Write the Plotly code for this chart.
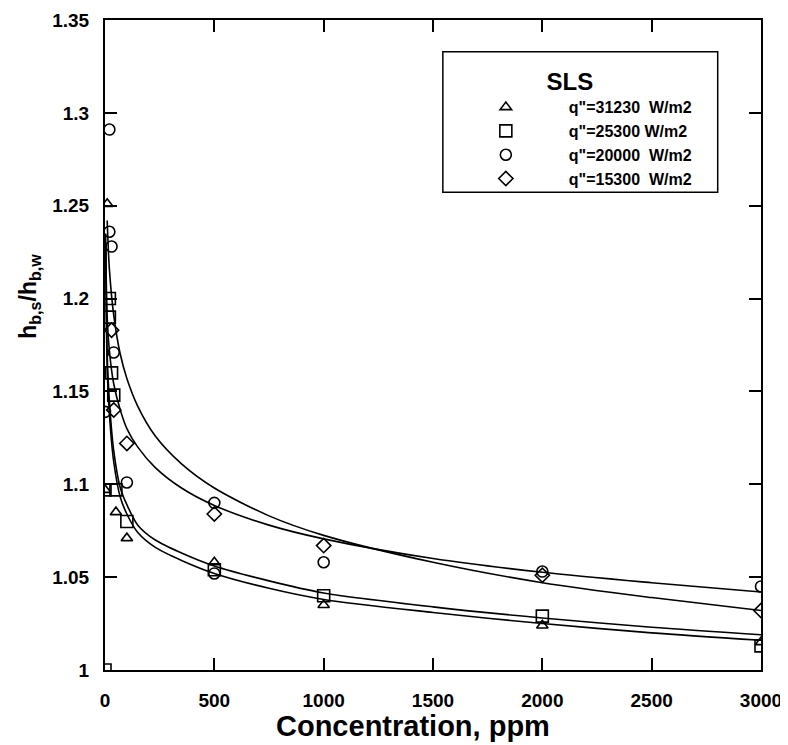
import plotly.graph_objects as go

# ---- measured points (concentration in ppm, h_b,s / h_b,w) ----
tri_x = [0, 10, 50, 100, 500, 1000, 2000, 3000]
tri_y = [1.097, 1.251, 1.085, 1.071, 1.058, 1.035, 1.024, 1.015]

sq_x = [0, 0, 20, 20, 30, 40, 50, 100, 500, 1000, 2000, 3000]
sq_y = [1.000, 1.097, 1.200, 1.190, 1.160, 1.148, 1.097, 1.080, 1.054, 1.040, 1.029, 1.013]

ci_x = [0, 20, 20, 30, 40, 100, 500, 500, 1000, 2000, 3000]
ci_y = [1.139, 1.291, 1.236, 1.228, 1.171, 1.101, 1.090, 1.052, 1.058, 1.053, 1.045]

di_x = [30, 40, 100, 500, 1000, 2000, 3000]
di_y = [1.183, 1.140, 1.122, 1.084, 1.067, 1.051, 1.032]

# ---- fitted curves ----
fit_x = [3, 10, 20, 40, 70, 100, 150, 230, 350, 500, 750, 1000, 1500, 2000, 2500, 3000]
fit_u1 = [None, 1.242, 1.216, 1.191, 1.170, 1.157, 1.142, 1.126, 1.111, 1.098, 1.083, 1.0725, 1.058, 1.047, 1.039, 1.032]
fit_u2 = [1.230, 1.190, 1.172, 1.154, 1.140, 1.130, 1.120, 1.109, 1.098, 1.0886, 1.078, 1.0706, 1.060, 1.0526, 1.047, 1.042]
fit_l1 = [1.235, 1.170, 1.145, 1.118, 1.098, 1.089, 1.078, 1.070, 1.063, 1.056, 1.048, 1.0415, 1.034, 1.028, 1.023, 1.019]
fit_l2 = [1.230, 1.163, 1.138, 1.112, 1.093, 1.084, 1.074, 1.066, 1.059, 1.052, 1.044, 1.038, 1.031, 1.025, 1.020, 1.016]

x_ticks = [0, 500, 1000, 1500, 2000, 2500, 3000]
y_ticks = [1, 1.05, 1.1, 1.15, 1.2, 1.25, 1.3, 1.35]

legend_title = "SLS"
series_names = ['q"=31230  W/m2', 'q"=25300 W/m2', 'q"=20000  W/m2', 'q"=15300  W/m2']
x_title = "Concentration, ppm"
y_title = "h<sub>b,s</sub>/h<sub>b,w</sub>"

FONT = "Liberation Sans, Arial, sans-serif"

fig = go.Figure()

for fy in [fit_u1, fit_u2, fit_l1, fit_l2]:
    fig.add_trace(go.Scatter(x=fit_x, y=fy, mode="lines",
                             line=dict(color="black", width=1.6, shape="spline", smoothing=0.8),
                             showlegend=False, hoverinfo="skip", connectgaps=False))

markers = ["triangle-up-open", "square-open", "circle-open", "diamond-open"]
sizes = [10, 12, 11, 11]
for xs, ys, name, sym, sz in zip([tri_x, sq_x, ci_x, di_x], [tri_y, sq_y, ci_y, di_y], series_names, markers, sizes):
    fig.add_trace(go.Scatter(x=xs, y=ys, mode="markers", name=name,
                             marker=dict(symbol=sym, size=sz, color="black", line=dict(color="black", width=1.6))))

# legend box
fig.add_shape(type="rect", xref="paper", yref="paper", x0=0.515, x1=0.934, y0=0.735, y1=0.951,
              line=dict(color="black", width=1.5), fillcolor="rgba(0,0,0,0)")

# axis titles placed as in the reference
fig.add_annotation(text=x_title, xref="paper", yref="paper", x=0.47, y=-0.086, showarrow=False,
                   xanchor="center", yanchor="middle", font=dict(size=29, family=FONT, weight="bold"))
fig.add_annotation(text=y_title, xref="paper", yref="paper", x=-0.115, y=0.575, showarrow=False,
                   textangle=-90, xanchor="center", yanchor="middle", font=dict(size=23, family=FONT, weight="bold"))

# the page body adds an 8 px offset, so the figure is 8 px smaller and margins shifted
fig.update_layout(
    width=780, height=737,
    margin=dict(l=97, r=27, t=12, b=75),
    paper_bgcolor="white", plot_bgcolor="white",
    font=dict(family=FONT, color="black", size=16, weight="bold"),
    legend=dict(x=0.515, y=0.94, xanchor="left", yanchor="top",
                bgcolor="rgba(0,0,0,0)", borderwidth=0,
                font=dict(size=16, family=FONT, weight="bold"),
                itemwidth=116, tracegroupgap=0,
                title=dict(text=legend_title, side="top center", font=dict(size=24, family=FONT, weight="bold"))),
    xaxis=dict(range=[0, 3000], tickvals=x_ticks, ticks="inside", ticklen=12, tickwidth=1.5, tickcolor="black",
               showline=True, linecolor="black", linewidth=2, mirror="ticks", showgrid=False, zeroline=False,
               automargin=False,
               tickfont=dict(size=19, family=FONT, weight="bold"), ticklabelstandoff=12),
    yaxis=dict(range=[1, 1.35], tickvals=y_ticks, ticks="inside", ticklen=12, tickwidth=1.5, tickcolor="black",
               showline=True, linecolor="black", linewidth=2, mirror="ticks", showgrid=False, zeroline=False,
               automargin=False,
               tickfont=dict(size=19, family=FONT, weight="bold"), ticklabelstandoff=10),
)

fig.write_html("out.html")
